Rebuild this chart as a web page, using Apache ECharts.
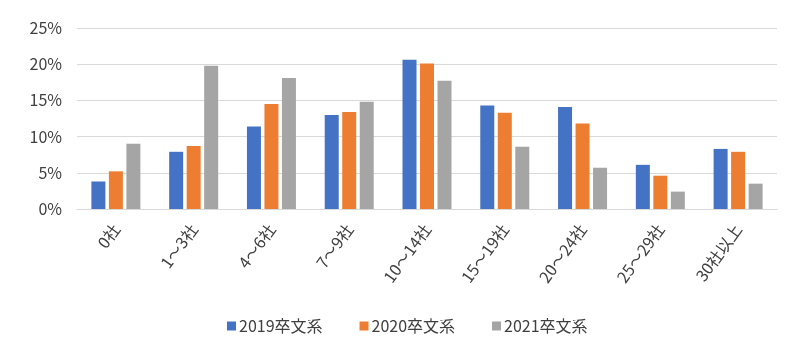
<!DOCTYPE html>
<html>
<head>
<meta charset="utf-8">
<script src="https://cdn.jsdelivr.net/npm/echarts@6/dist/echarts.min.js"></script>
<style>html,body{margin:0;padding:0;background:#fff}#c{width:801px;height:356px}</style>
</head>
<body>
<div id="c"></div>
<script>
const categories = ['0社','1～3社','4～6社','7～9社','10～14社','15～19社','20～24社','25～29社','30社以上'];
const seriesNames = ['2019卒文系','2020卒文系','2021卒文系'];
const s2019 = [3.8, 7.9, 11.4, 13.0, 20.6, 14.3, 14.1, 6.1, 8.3];
const s2020 = [5.2, 8.7, 14.5, 13.4, 20.1, 13.3, 11.8, 4.6, 7.9];
const s2021 = [9.0, 19.8, 18.1, 14.8, 17.7, 8.6, 5.7, 2.4, 3.5];
const colors = ['#4472C4','#ED7D31','#A5A5A5'];
const font = '"Noto Sans CJK JP", "Noto Sans", sans-serif';
const chart = echarts.init(document.getElementById('c'), null, {renderer:'canvas'});
const data = [s2019, s2020, s2021];
chart.setOption({
  animation:false,
  textStyle:{fontFamily:font},
  grid:{left:77, right:24, top:28, bottom:147, containLabel:false},
  legend:{
    data:seriesNames, left:222, top:313, itemWidth:9, itemHeight:9, itemGap:37,
    icon:'rect',
    textStyle:{fontSize:16, color:'#404040', fontFamily:font, padding:[0,0,0,-2]}
  },
  xAxis:{
    type:'category', data:categories,
    axisLine:{lineStyle:{color:'#D9D9D9', width:1}},
    axisTick:{show:false},
    axisLabel:{rotate:54, fontSize:16, color:'#404040', margin:17, interval:0, fontFamily:font}
  },
  yAxis:{
    type:'value', min:0, max:25, interval:5,
    axisLabel:{formatter:'{value}%', fontSize:16, color:'#404040', margin:15, fontFamily:font},
    splitLine:{lineStyle:{color:'#D9D9D9', width:1}},
    axisLine:{show:false}, axisTick:{show:false}
  },
  series: seriesNames.map((n,i)=>({
    name:n, type:'bar', data:data[i], barWidth:14, barGap:'25%',
    itemStyle:{color:colors[i]}
  }))
});
</script>
</body>
</html>
